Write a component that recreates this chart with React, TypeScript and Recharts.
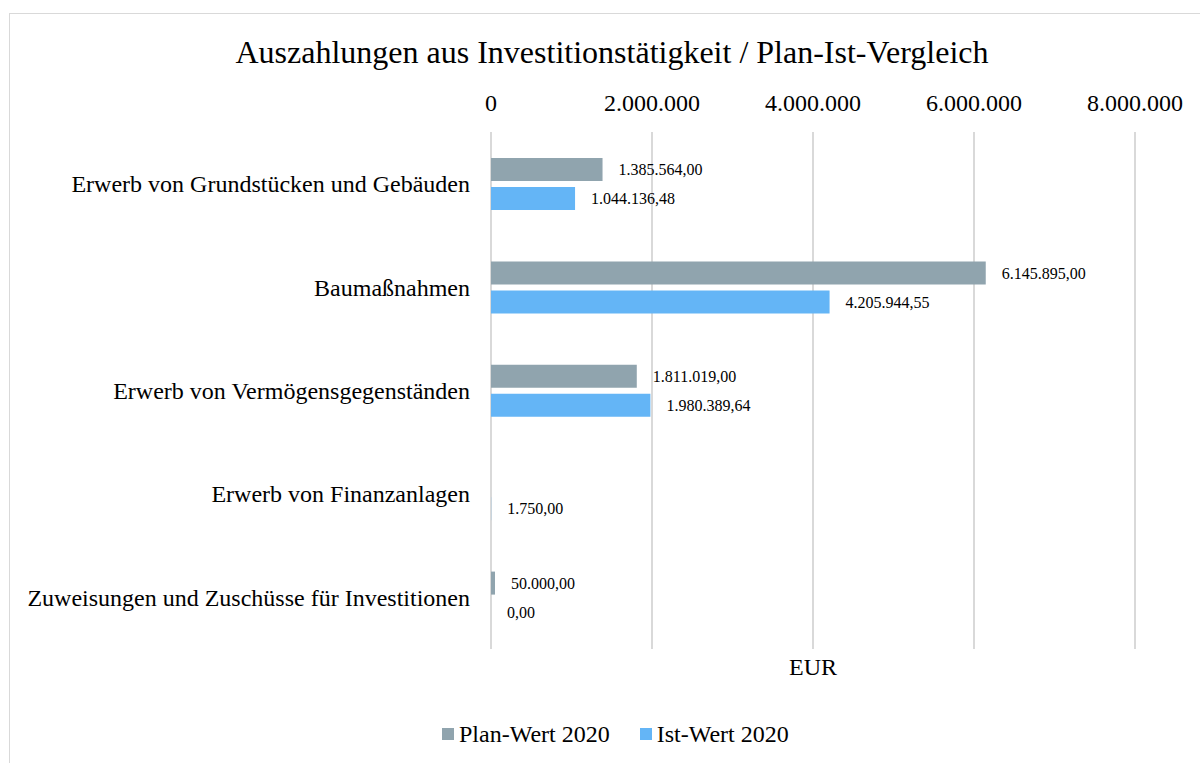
import React from "react";
import {
  BarChart,
  Bar,
  XAxis,
  YAxis,
  CartesianGrid,
  Legend,
  LabelList,
} from "recharts";

const categories = [
  "Erwerb von Grundstücken und Gebäuden",
  "Baumaßnahmen",
  "Erwerb von Vermögensgegenständen",
  "Erwerb von Finanzanlagen",
  "Zuweisungen und Zuschüsse für Investitionen",
];
const planValues: (number | null)[] = [1385564, 6145895, 1811019, null, 50000];
const istValues: (number | null)[] = [1044136.48, 4205944.55, 1980389.64, 1750, 0];
const axisTicks = [0, 2000000, 4000000, 6000000, 8000000];

const seriesNames = { plan: "Plan-Wert 2020", ist: "Ist-Wert 2020" };
const colors = { plan: "#90a4ae", ist: "#64b5f6" };

const FONT = '"Liberation Serif", "Times New Roman", serif';

// German number formatting, done by hand
function groupThousands(n: number) {
  return String(n).replace(/\B(?=(\d{3})+(?!\d))/g, ".");
}
function fmtTick(v: number) {
  return groupThousands(Math.round(v));
}
function fmtValue(v: any) {
  if (v === null || v === undefined) return "";
  const cents = Math.round(Number(v) * 100);
  const whole = Math.floor(cents / 100);
  const frac = String(cents % 100).padStart(2, "0");
  return groupThousands(whole) + "," + frac;
}

const data = categories.map((name, i) => ({
  name,
  plan: planValues[i],
  ist: istValues[i],
}));

// value label right of the bar end
function ValueLabel(props: any) {
  const { x, y, width, height, value } = props;
  if (value === null || value === undefined) return null;
  const px = Number(x) + (Number(width) || 0) + 16;
  const py = Number(y) + Number(height) / 2;
  return (
    <text x={px} y={py} dy="0.35em" fill="#000" fontSize={16} fontFamily={FONT} textAnchor="start">
      {fmtValue(value)}
    </text>
  );
}

function LegendContent() {
  const items = [
    { label: seriesNames.plan, color: colors.plan },
    { label: seriesNames.ist, color: colors.ist },
  ];
  return (
    <div style={{ display: "flex", alignItems: "center", fontFamily: FONT, fontSize: 24, lineHeight: "24px", color: "#000" }}>
      {items.map((it) => (
        <div key={it.label} style={{ display: "flex", alignItems: "center", marginRight: 30 }}>
          <span style={{ display: "inline-block", width: 12, height: 12, background: it.color, marginRight: 5 }} />
          <span style={{ whiteSpace: "nowrap" }}>{it.label}</span>
        </div>
      ))}
    </div>
  );
}

export default function App() {
  return (
    <div
      style={{
        position: "fixed",
        left: 0,
        top: 0,
        width: 1200,
        height: 763,
        overflow: "hidden",
        background: "#fff",
        fontFamily: FONT,
      }}
    >
      <div
        style={{
          position: "absolute",
          left: 9,
          top: 13,
          width: 1300,
          height: 900,
          border: "1px solid #d9d9d9",
        }}
      />
      <div
        style={{
          position: "absolute",
          left: 0,
          top: 36,
          width: 1224,
          textAlign: "center",
          fontSize: 32,
          lineHeight: "32px",
          color: "#000",
          whiteSpace: "nowrap",
        }}
      >
        Auszahlungen aus Investitionstätigkeit / Plan-Ist-Vergleich
      </div>
      <div
        style={{
          position: "absolute",
          left: 713,
          top: 655,
          width: 200,
          textAlign: "center",
          fontSize: 24,
          lineHeight: "24px",
          color: "#000",
        }}
      >
        EUR
      </div>
      <div style={{ position: "absolute", left: 0, top: 0 }}>
        <BarChart
          width={1200}
          height={763}
          data={data}
          layout="vertical"
          margin={{ top: 92, right: 65, bottom: 114, left: 0 }}
          barSize={23}
          barGap={6}
        >
          <CartesianGrid horizontal={false} stroke="#d9d9d9" strokeWidth={2} />
          <XAxis
            type="number"
            orientation="top"
            domain={[0, 8000000]}
            ticks={axisTicks}
            tickFormatter={fmtTick}
            height={40}
            axisLine={false}
            tickLine={false}
            tickSize={0}
            tickMargin={21}
            tick={{ fill: "#000", fontSize: 24, fontFamily: FONT }}
            interval={0}
          />
          <YAxis
            type="category"
            dataKey="name"
            width={491}
            axisLine={false}
            tickLine={false}
            tickSize={0}
            tickMargin={21}
            tick={{ fill: "#000", fontSize: 24, fontFamily: FONT }}
            interval={0}
          />
          <Legend
            layout="horizontal"
            verticalAlign="middle"
            align="center"
            content={<LegendContent />}
            wrapperStyle={{ left: 442, top: 722, width: 500, height: 24 }}
          />
          <Bar dataKey="plan" name={seriesNames.plan} fill={colors.plan} isAnimationActive={false}>
            <LabelList dataKey="plan" content={<ValueLabel />} />
          </Bar>
          {/* tiny minPointSize keeps the zero-value bar (and its "0,00" label) in the layout */}
          <Bar dataKey="ist" name={seriesNames.ist} fill={colors.ist} minPointSize={0.01} isAnimationActive={false}>
            <LabelList dataKey="ist" content={<ValueLabel />} />
          </Bar>
        </BarChart>
      </div>
    </div>
  );
}
